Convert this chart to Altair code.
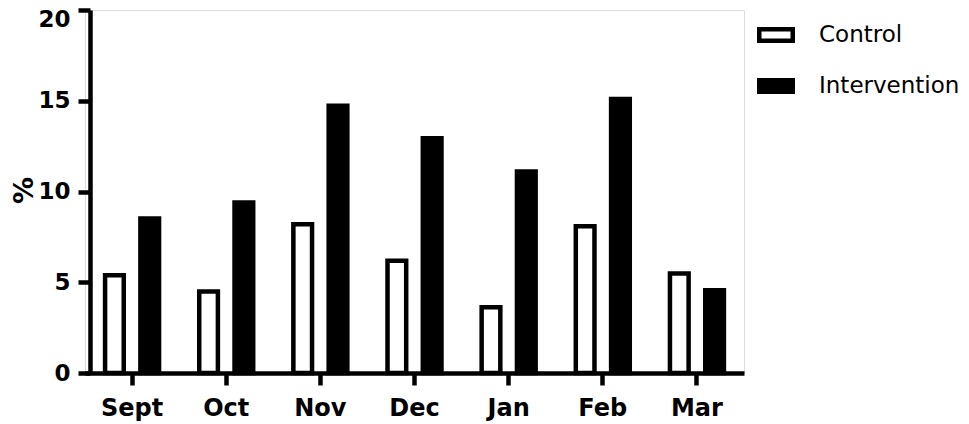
import altair as alt
import pandas as pd

months = ["Sept", "Oct", "Nov", "Dec", "Jan", "Feb", "Mar"]
groups = ["Control", "Intervention"]
control = [5.39, 4.49, 8.20, 6.19, 3.62, 8.09, 5.48]
intervention = [8.51, 9.39, 14.73, 12.93, 11.10, 15.10, 4.56]
y_ticks = [0, 5, 10, 15, 20]

rows = []
for m, c, i in zip(months, control, intervention):
    rows.append({"month": m, "group": "Control", "value": c})
    rows.append({"month": m, "group": "Intervention", "value": i})
df = pd.DataFrame(rows)

FONT = "DejaVu Sans"
SW = 4.5

chart = alt.Chart(df).mark_bar(
    stroke="black", strokeWidth=SW, strokeJoin="miter"
).encode(
    x=alt.X("month:N", sort=months,
            scale=alt.Scale(paddingInner=0, paddingOuter=0),
            axis=alt.Axis(title=None, labelAngle=0, labelFont=FONT,
                          labelFontSize=24, labelFontWeight="bold",
                          labelColor="black", labelPadding=11,
                          tickSize=12, tickWidth=SW, tickColor="black",
                          domainWidth=SW, domainColor="black",
                          grid=False)),
    xOffset=alt.XOffset("group:N", sort=groups,
                        scale=alt.Scale(paddingInner=0.471, paddingOuter=0.569)),
    y=alt.Y("value:Q",
            scale=alt.Scale(domain=[0, 20], nice=False),
            axis=alt.Axis(title="%", values=y_ticks, offset=-5,
                          labelFont=FONT, labelFontSize=23,
                          labelFontWeight="bold", labelColor="black",
                          labelPadding=8,
                          labelOffset=alt.condition("datum.value == 20", alt.value(9), alt.value(0)),
                          tickSize=12, tickWidth=SW, tickColor="black",
                          domainWidth=SW, domainColor="black",
                          titleFont=FONT, titleFontSize=27,
                          titleFontWeight="bold", titleColor="black",
                          titleAngle=270, titleAlign="center",
                          titleBaseline="middle", titleX=-66, titleY=180,
                          grid=False)),
    fill=alt.Fill("group:N", sort=groups,
                  scale=alt.Scale(domain=groups, range=["white", "black"]),
                  legend=alt.Legend(title=None, orient="none",
                                    legendX=672, legendY=6,
                                    padding=0,
                                    symbolType="M-1,-0.343L1,-0.343L1,0.343L-1,0.343Z",
                                    symbolSize=1122,
                                    symbolStrokeColor="black",
                                    symbolStrokeWidth=SW,
                                    labelFont=FONT, labelFontSize=23,
                                    labelColor="black", labelOffset=24,
                                    rowPadding=17)),
).properties(
    width=659, height=363,
    autosize="none",
    padding={"left": 77, "top": 2, "right": 217, "bottom": 50},
).configure_view(stroke=None).configure(background="white")

chart.save("out.html", embed_options={"renderer": "svg", "actions": False})
